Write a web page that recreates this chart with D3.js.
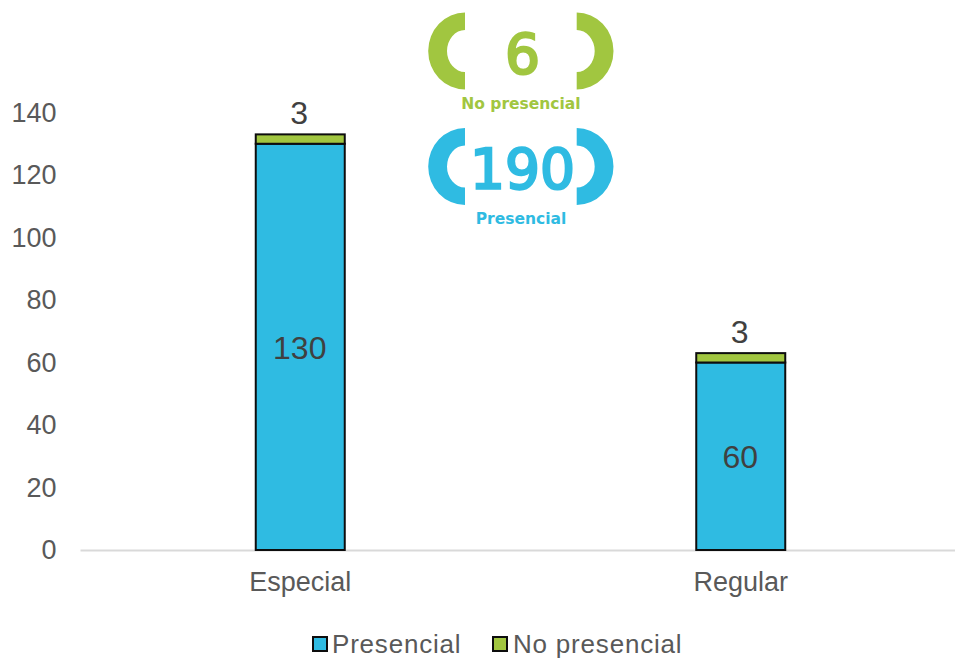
<!DOCTYPE html>
<html><head><meta charset="utf-8">
<script src="https://cdn.jsdelivr.net/npm/d3@7"></script>
<style>html,body{margin:0;padding:0;background:#fff}svg{display:block}</style>
</head><body><svg id="c" width="955" height="658" font-family="Liberation Sans"></svg>
<script>
const categories = ["Especial","Regular"];
const presencial = [130,60];
const noPresencial = [3,3];
const yTicks = [0,20,40,60,80,100,120,140];
const seriesNames = ["Presencial","No presencial"];
const totalValues = ["6","190"];
const totalLabels = ["No presencial","Presencial"];
const BLUE="#2FBBE2", GREEN="#A1C640", INK="#404040", GREY="#595959";

const svg=d3.select("#c");
const x=d3.scaleBand().domain(categories).range([80,961]).paddingInner(0).paddingOuter(0);
const y=d3.scaleLinear().domain([0,140]).range([550,112.5]);
const bw=89;
const cx=c=>x(c)+x.bandwidth()/2;

// axes
const gx=svg.append("g").attr("transform","translate(0,550)").call(d3.axisBottom(x).tickSize(0).tickPadding(22));
gx.select(".domain").attr("stroke","#D9D9D9").attr("stroke-width",2);
gx.selectAll("text").attr("font-size",27).attr("fill",GREY).attr("font-family","Liberation Sans");
const gy=svg.append("g").attr("transform","translate(60,0)").call(d3.axisLeft(y).tickValues(yTicks).tickSize(0).tickPadding(3.5));
gy.select(".domain").remove();
gy.selectAll("text").attr("font-size",27).attr("fill",GREY).attr("font-family","Liberation Sans");

// bars
const bars=svg.append("g");
categories.forEach((c,i)=>{
  const p=presencial[i], n=noPresencial[i];
  bars.append("rect").attr("x",cx(c)-bw/2).attr("width",bw).attr("y",y(p)).attr("height",y(0)-y(p))
    .attr("fill",BLUE).attr("stroke","#0d0d0d").attr("stroke-width",2);
  bars.append("rect").attr("x",cx(c)-bw/2).attr("width",bw).attr("y",y(p+n)).attr("height",y(p)-y(p+n))
    .attr("fill",GREEN).attr("stroke","#0d0d0d").attr("stroke-width",2);
  svg.append("text").attr("x",cx(c)-0.5).attr("y",y(p/2)+12).attr("text-anchor","middle")
    .attr("font-size",32).attr("fill",INK).text(p);
  svg.append("text").attr("x",cx(c)-1).attr("y",y(p+n)-10).attr("text-anchor","middle")
    .attr("font-size",32).attr("fill",INK).text(n);
});

// legend
const legendX=[312,492], legendTextX=[332,513];
seriesNames.forEach((s,i)=>{
  svg.append("rect").attr("x",legendX[i]+1).attr("y",637).attr("width",14).attr("height",14)
    .attr("fill",i?GREEN:BLUE).attr("stroke","#0d0d0d").attr("stroke-width",2);
  svg.append("text").attr("x",legendTextX[i]).attr("y",652.5).attr("font-size",26)
    .attr("letter-spacing",0.8).attr("fill",GREY).text(s);
});

// bracket callouts
function bracket(cy,color,side){
  const hO=38.5, hI=21;
  const edge=side<0?465:576.7;
  const rxO=36.8, rxI=18;
  const s=side<0?0:1;
  const d=`M${edge},${cy-hO}A${rxO},${hO} 0 0 ${s} ${edge},${cy+hO}L${edge},${cy+hI}A${rxI},${hI} 0 0 ${1-s} ${edge},${cy-hI}Z`;
  svg.append("path").attr("d",d).attr("fill",color);
}
const cys=[51,166.5], cols=[GREEN,BLUE], numY=[73,188], labY=[108.5,223.5];
totalValues.forEach((t,i)=>{
  bracket(cys[i],cols[i],-1); bracket(cys[i],cols[i],1);
  svg.append("text").attr("x",522.5).attr("y",numY[i]).attr("text-anchor","middle")
    .attr("font-family","DejaVu Sans").attr("font-size",55).attr("letter-spacing",0)
    .attr("fill",cols[i]).attr("stroke",cols[i]).attr("stroke-width",2.4).text(t);
  svg.append("text").attr("x",521).attr("y",labY[i]).attr("text-anchor","middle")
    .attr("font-family","DejaVu Sans").attr("font-weight",700).attr("font-size",15.5).attr("fill",cols[i]).text(totalLabels[i]);
});
</script></body></html>
